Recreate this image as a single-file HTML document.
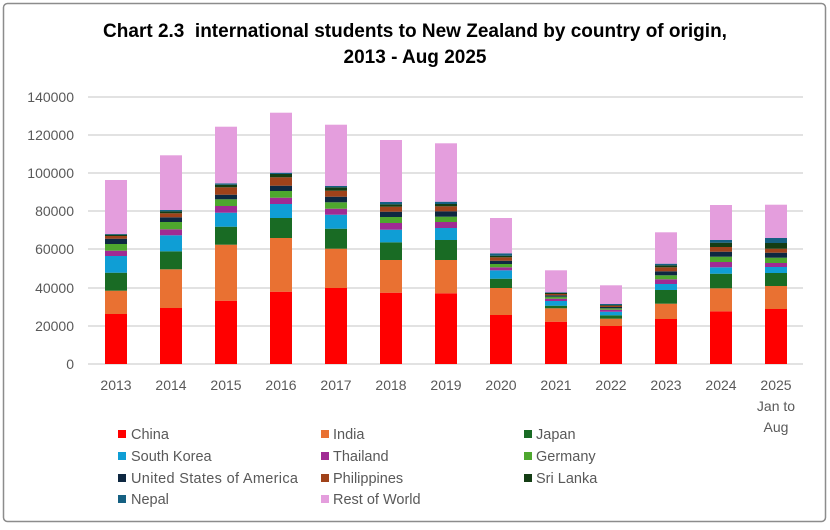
<!DOCTYPE html>
<html><head><meta charset="utf-8"><style>
body{margin:0;background:#fff;}
svg{display:block;font-family:"Liberation Sans",Arial,sans-serif;}
</style></head><body>
<svg id="s" width="830" height="530" xmlns="http://www.w3.org/2000/svg">
<rect x="0" y="0" width="830" height="530" fill="#fff"/>
<rect x="3.5" y="3.5" width="822" height="518" rx="4" fill="none" stroke="#8c8c8c" stroke-width="1.5"/>
<text x="415" y="37" text-anchor="middle" font-size="19" font-weight="bold" fill="#000">Chart 2.3&#160; international students to New Zealand by country of origin,</text>
<text x="415" y="63" text-anchor="middle" font-size="19" font-weight="bold" fill="#000">2013 - Aug 2025</text>
<g stroke="#d9d9d9" stroke-width="1.5">
<line x1="88" x2="803" y1="97" y2="97"/><line x1="88" x2="803" y1="135" y2="135"/>
<line x1="88" x2="803" y1="173" y2="173"/><line x1="88" x2="803" y1="211" y2="211"/>
<line x1="88" x2="803" y1="249" y2="249"/><line x1="88" x2="803" y1="288" y2="288"/>
<line x1="88" x2="803" y1="326" y2="326"/><line x1="88" x2="803" y1="364" y2="364"/>
</g>
<g font-size="14" fill="#595959" text-anchor="end">
<text x="74" y="102">140000</text><text x="74" y="140">120000</text><text x="74" y="178">100000</text>
<text x="74" y="216">80000</text><text x="74" y="254">60000</text><text x="74" y="293">40000</text>
<text x="74" y="331">20000</text><text x="74" y="369">0</text>
</g>
<g id="bars"></g>
<g font-size="14" fill="#595959" text-anchor="middle">
<text x="116" y="390">2013</text><text x="171" y="390">2014</text><text x="226" y="390">2015</text>
<text x="281" y="390">2016</text><text x="336" y="390">2017</text><text x="391" y="390">2018</text>
<text x="446" y="390">2019</text><text x="501" y="390">2020</text><text x="556" y="390">2021</text>
<text x="611" y="390">2022</text><text x="666" y="390">2023</text><text x="721" y="390">2024</text>
<text x="776" y="390">2025</text><text x="776" y="411">Jan to</text><text x="776" y="432">Aug</text>
</g>
<g font-size="14.5" fill="#595959">
<rect x="118" y="430" width="8" height="8" fill="#ff0000"/><text x="131" y="439">China</text>
<rect x="321" y="430" width="8" height="8" fill="#e97132"/><text x="333" y="439">India</text>
<rect x="524" y="430" width="8" height="8" fill="#196b24"/><text x="536" y="439">Japan</text>
<rect x="118" y="452" width="8" height="8" fill="#0f9ed5"/><text x="131" y="461">South Korea</text>
<rect x="321" y="452" width="8" height="8" fill="#a02b93"/><text x="333" y="461">Thailand</text>
<rect x="524" y="452" width="8" height="8" fill="#4ea72e"/><text x="536" y="461">Germany</text>
<rect x="118" y="474" width="8" height="8" fill="#0e2841"/><text x="131" y="483" textLength="167">United States of America</text>
<rect x="321" y="474" width="8" height="8" fill="#a0421a"/><text x="333" y="483">Philippines</text>
<rect x="524" y="474" width="8" height="8" fill="#143d14"/><text x="536" y="483">Sri Lanka</text>
<rect x="118" y="495" width="8" height="8" fill="#156082"/><text x="131" y="504">Nepal</text>
<rect x="321" y="495" width="8" height="8" fill="#e49edd"/><text x="333" y="504">Rest of World</text>
</g>
</svg>
<script>
var cols=["#ff0000","#e97132","#196b24","#0f9ed5","#a02b93","#4ea72e","#0e2841","#a0421a","#143d14","#156082","#e49edd"];
var tops=[
[314,290.7,272.7,256,250.7,244,238.7,236,234.7,234,180],
[308,269.3,251.3,235.3,229.3,222,217.3,213.3,211.3,210,155.3],
[300.7,244.7,226.7,212.7,206,199.3,194.7,187.3,184.7,183.3,126.7],
[291.7,238,218,204,197.7,191,185.7,177.3,174,172.7,112.7],
[288,248.7,228.7,214.7,208.7,202.3,196.7,190.7,187.3,186,124.7],
[292.7,260,242.3,229.7,223,217,211.7,206.7,204.3,202,140],
[293.3,260,240,228,222,216.7,211.3,206.3,204,201.7,143.3],
[315,288,278.7,270.3,267.3,264,260.7,257.3,255.7,253.3,218],
[321.7,308.3,305.7,301,298.7,296.7,295.3,294,293,292.3,270.3],
[326,318.7,315.3,311.7,309.7,308.3,307,305.7,305,304,285.3],
[319,303.7,290,284,279.3,275.3,271.3,267.3,265.3,263.7,232.3],
[311.3,288.3,273.7,267.3,262,256.7,251.7,247,242.7,240,205],
[309,286,273,267,263,257.7,252.7,248.7,243,238,204.7]];
var g=document.getElementById("bars"),ns="http://www.w3.org/2000/svg";
tops.forEach(function(t,i){var x=116+i*55-11,prev=364;
t.forEach(function(y,j){var r=document.createElementNS(ns,"rect");
r.setAttribute("x",x);r.setAttribute("width",22);r.setAttribute("y",y);r.setAttribute("height",prev-y);
r.setAttribute("fill",cols[j]);g.appendChild(r);prev=y;});});
</script>
</body></html>
